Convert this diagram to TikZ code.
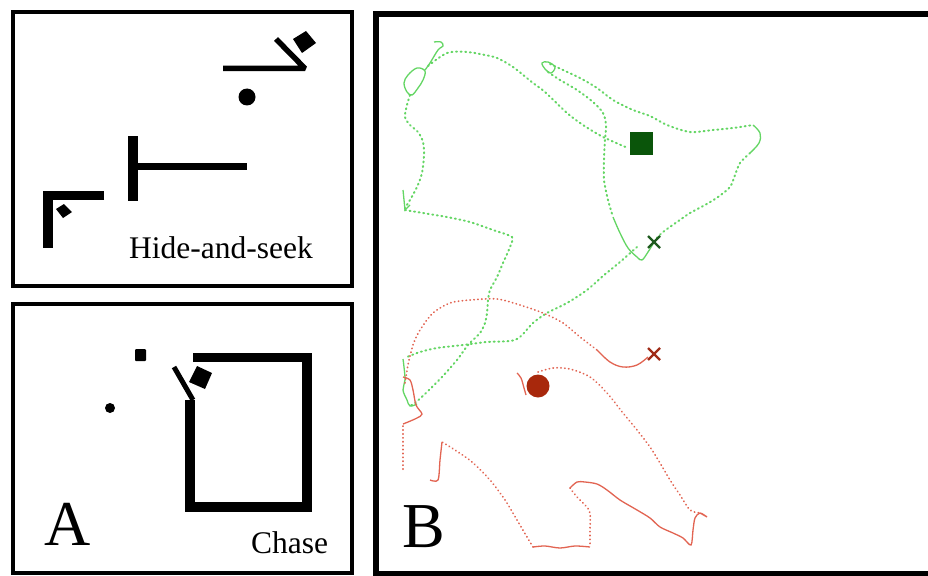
\documentclass[tikz,border=0pt]{standalone}
\usepackage{fontspec}
\setmainfont{Liberation Serif}
\usetikzlibrary{calc}
\definecolor{lgreen}{RGB}{100,214,100}
\definecolor{lred}{RGB}{226,100,82}
\definecolor{dgreen}{RGB}{10,85,10}
\definecolor{xgreen}{RGB}{30,90,30}
\definecolor{dred}{RGB}{168,40,12}
\definecolor{xred}{RGB}{160,45,25}
\begin{document}
\begin{tikzpicture}[x=1pt,y=-1pt,
  panel/.style={draw=black,line width=4pt},
  bpanel/.style={draw=black,line width=6pt},
  wall/.style={draw=black,line cap=butt,miter limit=10},
  gdot/.style={draw=lgreen,line width=2pt,line cap=round,dash pattern=on 1pt off 3.6pt},
  gline/.style={draw=lgreen,line width=1.3pt},
  rdot/.style={draw=lred,line width=1.8pt,line cap=round,dash pattern=on 0.3pt off 3.6pt},
  rline/.style={draw=lred,line width=1.3pt},
  lbl/.style={inner sep=0pt,font=\fontsize{31.5}{36}\selectfont},
  big/.style={inner sep=0pt,font=\fontsize{64}{70}\selectfont}]
\useasboundingbox (0,0) rectangle (928,575);
\fill[white] (0,0) rectangle (928,575);
% panel frames
\draw[panel] (13,12) rectangle (352,286);
\draw[panel] (13,304) rectangle (352,572.5);
\draw[bpanel] (928,14.5) -- (375.5,14.5) -- (375.5,573.5) -- (928,573.5);
% ---------- hide-and-seek ----------
\fill (306,31) -- (316,43) -- (302,53) -- (293,39) -- cycle;
\draw[wall,line width=5.5pt,line join=bevel] (223,68.5) -- (305,68.5) -- (276,39);
\fill (247,97) circle (8.5);
\draw[wall,line width=10pt] (133.3,136) -- (133.3,201);
\draw[wall,line width=7pt] (133,166.5) -- (247,166.5);
\draw[wall,line width=9.5pt] (104,195.5) -- (48,195.5) -- (48,248);
\fill (64,204) -- (72,212) -- (63,218) -- (56,209) -- cycle;
\node[lbl,anchor=base west] (hs) at (129,258) {Hide-and-seek};
% ---------- chase ----------
\fill[rounded corners=1pt] (135,349) rectangle (146,361);
\fill (110,408) circle (5);
\fill (197,366) -- (212,373) -- (205,389) -- (189,382) -- cycle;
\draw[wall,line width=5pt] (174,367) -- (193,400);
\draw[wall,line width=9.5pt] (193,357.5) -- (307,357.5) -- (307,507) -- (190,507) -- (190,400);
\node[lbl,anchor=base west] (ch) at (251,553) {Chase};
\node[big,anchor=base west] (la) at (44,545) {A};
% ---------- B: trajectories ----------
% green
\draw[gline] plot[smooth,tension=0.6] coordinates {(434,42) (441,42) (443,46) (438,50) (430,63) (425,70)};
\draw[gline] plot[smooth cycle,tension=0.6] coordinates {(425,71) (417,68) (408,75) (404,83) (407,92) (412,95) (418,88) (423,80)};
\draw[gdot] plot[smooth,tension=0.5] coordinates {(428,66) (447,53) (467,52) (485,55) (497,58) (513,67) (533,83) (545,92) (567,113) (583,125) (603,137) (628,148)};
\draw[gdot] plot[smooth,tension=0.5] coordinates {(410,95) (407,105) (405,117) (410,125) (418,132) (423,142) (424,155) (422,173) (417,187) (410,200) (405,208)};
\draw[gline] (403,190) -- (405,210) -- (410,205);
\draw[gdot] plot[smooth,tension=0.4] coordinates {(405,210) (423,213) (447,217) (470,222) (493,230) (512,237) (510,247) (503,263) (497,277) (490,290) (488,300) (487,313) (485,323) (480,333) (468,345) (457,360) (442,377) (427,392) (415,403) (408,407)};
\draw[gdot] plot[smooth,tension=0.5] coordinates {(637,247) (620,262) (603,276) (587,290) (567,303) (547,313) (533,323) (520,337) (510,341) (487,342) (463,345) (437,348) (420,352) (407,357)};
\draw[gline] plot[smooth,tension=0.6] coordinates {(403,359) (404,367) (405,380) (403,390) (407,400) (410,406) (417,404)};
\draw[gline] plot[smooth cycle,tension=0.6] coordinates {(542,63) (548,62) (555,67) (551,73) (545,69)};
\draw[gdot] plot[smooth,tension=0.5] coordinates {(550,64) (563,70) (580,78) (597,88) (613,100) (633,110) (650,116) (667,125) (690,132) (713,130) (733,128) (753,125)};
\draw[gline] plot[smooth,tension=0.6] coordinates {(753,125) (760,133) (759,143) (750,153)};
\draw[gdot] plot[smooth,tension=0.5] coordinates {(750,153) (740,163) (735,175) (730,187) (718,197) (705,205) (690,213) (677,222) (663,232) (655,240)};
\draw[gdot] plot[smooth,tension=0.5] coordinates {(548,72) (560,80) (577,90) (593,102) (603,113) (606,125) (605,140) (604,160) (604,180) (608,200) (613,217)};
\draw[gline] plot[smooth,tension=0.6] coordinates {(613,217) (620,233) (628,248) (637,257) (642,260) (648,252) (653,244)};
% red
\draw[rdot] plot[smooth,tension=0.5] coordinates {(405,383) (408,365) (413,345) (420,330) (433,313) (450,303) (470,300) (497,299) (520,305) (543,313) (563,323) (580,337) (597,350)};
\draw[rline] plot[smooth,tension=0.6] coordinates {(597,350) (610,362) (623,367) (637,365) (648,357)};
\draw[rline] plot[smooth,tension=0.5] coordinates {(403,377) (410,380) (413,390) (416,405) (422,414) (417,418) (408,422) (403,424)};
\draw[rdot] (403,426) -- (403,472);
\draw[rline] plot[smooth,tension=0.6] coordinates {(517,373) (521,378) (524,388) (526,395)};
\draw[rdot] plot[smooth,tension=0.5] coordinates {(538,372) (553,368) (570,369) (590,377) (607,393) (623,413) (637,430) (650,447) (660,463) (670,480) (680,495) (690,510) (700,513)};
\draw[rline] plot[smooth,tension=0.5] coordinates {(700,513) (707,517) (700,513) (695,518) (693,530) (691,545) (683,538) (673,533) (660,527) (650,518) (637,510) (620,500) (607,490) (597,484) (585,482) (577,482) (570,488)};
\draw[rdot] plot[smooth,tension=0.5] coordinates {(570,488) (577,497) (585,505) (590,513) (590,530) (590,547)};
\draw[rline] plot[smooth,tension=0.5] coordinates {(590,547) (575,546) (560,548) (545,546) (533,547)};
\draw[rdot] plot[smooth,tension=0.5] coordinates {(533,547) (527,537) (517,520) (505,500) (490,480) (472,462) (455,450) (442,442)};
\draw[rline] plot[smooth,tension=0.5] coordinates {(442,442) (440,460) (438,480) (430,480)};
% markers
\node[fill=dgreen,draw=dgreen,minimum size=22pt,inner sep=0pt] (sq) at (641.5,143) {};
\fill[dred] (538,386) circle (11.5);
\coordinate (gx) at (654,242);
\draw[xgreen,line width=2.4pt] ($(gx)+(-6,-6)$) -- ($(gx)+(6,6)$) ($(gx)+(-6,6)$) -- ($(gx)+(6,-6)$);
\coordinate (rx) at (654,354);
\draw[xred,line width=2.4pt] ($(rx)+(-6,-6)$) -- ($(rx)+(6,6)$) ($(rx)+(-6,6)$) -- ($(rx)+(6,-6)$);
\node[big,anchor=base west] (lb) at (402,547) {B};
\end{tikzpicture}
\end{document}
